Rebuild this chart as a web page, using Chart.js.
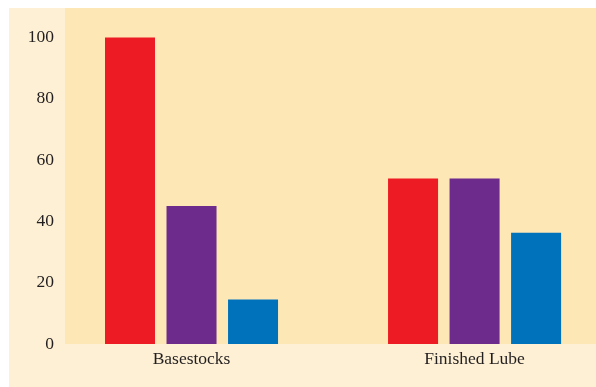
<!DOCTYPE html>
<html>
<head>
<meta charset="utf-8">
<script src="https://cdn.jsdelivr.net/npm/chart.js@4"></script>
<style>
  html, body { margin: 0; padding: 0; background: #fff; }
  #wrap { width: 596px; height: 387px; }
</style>
</head>
<body>
<div id="wrap"><canvas id="lubeChart"></canvas></div>
<script>
const categories = ['Basestocks', 'Finished Lube'];
const redValues = [100, 54];
const purpleValues = [45, 54];
const blueValues = [14.5, 36.3];
const yTicks = [0, 20, 40, 60, 80, 100];

Chart.defaults.font.family = '"Liberation Serif", "Times New Roman", serif';
Chart.defaults.font.size = 17.5;
Chart.defaults.color = '#231f20';

// bars sit on a linear x axis so the two groups can be placed off-centre like the original
const toPoints = values => values.map((v, i) => ({ x: i + 1, y: v }));

const panels = {
  id: 'panels',
  beforeDraw(chart) {
    const { ctx, chartArea } = chart;
    ctx.save();
    ctx.fillStyle = '#ffffff';
    ctx.fillRect(0, 0, chart.width, chart.height);
    ctx.fillStyle = '#fdf0d4';
    ctx.fillRect(9, 8, chart.width - 9, chart.height - 8);
    ctx.fillStyle = '#fde7b4';
    ctx.fillRect(chartArea.left, chartArea.top, chartArea.right - chartArea.left, chartArea.bottom - chartArea.top);
    ctx.restore();
  }
};

const data = {
  datasets: [
    { data: toPoints(redValues), backgroundColor: '#ed1c24' },
    { data: toPoints(purpleValues), backgroundColor: '#6d2b8c' },
    { data: toPoints(blueValues), backgroundColor: '#0072bb' }
  ]
};

const options = {
  responsive: true,
  maintainAspectRatio: false,
  animation: false,
  layout: { padding: { left: 9, top: 8, right: 0, bottom: 0 } },
  datasets: { bar: { categoryPercentage: 0.652, barPercentage: 0.813 } },
  plugins: { legend: { display: false }, tooltip: { enabled: false } },
  scales: {
    x: {
      type: 'linear',
      offset: false,
      min: 0.553,
      max: 2.429,
      grid: { display: false, drawTicks: false, offset: false },
      border: { display: false },
      afterBuildTicks: scale => { scale.ticks = categories.map((c, i) => ({ value: i + 1 })); },
      afterFit: scale => {
        scale.height = 43;
        scale.paddingLeft = 0;
        scale.paddingRight = 0;
      },
      ticks: {
        padding: 5,
        maxRotation: 0,
        callback: value => categories[value - 1]
      }
    },
    y: {
      min: 0,
      max: 109.6,
      grid: { display: false, drawTicks: false },
      border: { display: false },
      afterBuildTicks: scale => { scale.ticks = yTicks.map(v => ({ value: v })); },
      afterFit: scale => {
        scale.width = 56;
        scale.paddingTop = 0;
        scale.paddingBottom = 0;
      },
      ticks: { padding: 11 }
    }
  }
};

new Chart('lubeChart', { type: 'bar', data, options, plugins: [panels] });
</script>
</body>
</html>
